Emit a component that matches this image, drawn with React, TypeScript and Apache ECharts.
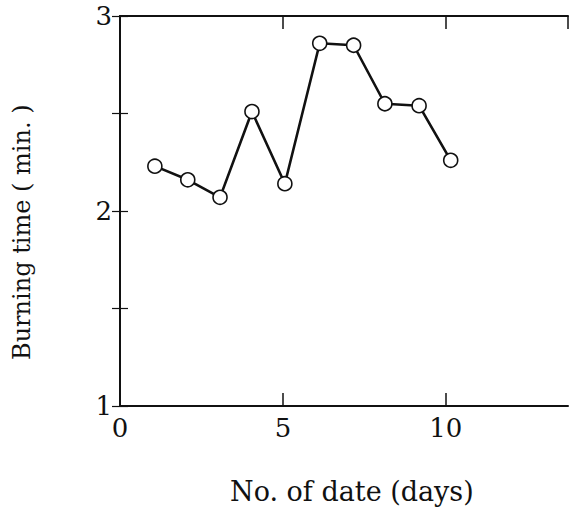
import React, { useEffect, useRef } from "react";
import * as echarts from "echarts";

const days = [1.07, 2.08, 3.07, 4.05, 5.06, 6.13, 7.17, 8.13, 9.18, 10.15];
const burningTime = [2.23, 2.16, 2.07, 2.51, 2.14, 2.86, 2.85, 2.55, 2.54, 2.26];
const xTickLabels = ["0", "5", "10"];
const yTickLabels = ["1", "2", "3"];
const xTitle = "No. of date (days)";
const yTitle = "Burning time ( min. )";

const FONT = "'DejaVu Serif', 'Liberation Serif', serif";

export default function App() {
  const ref = useRef<HTMLDivElement>(null);
  useEffect(() => {
    if (!ref.current) return;
    const chart = echarts.init(ref.current, null, { renderer: "svg" });
    const axisLine = { show: true, lineStyle: { color: "#111", width: 2 } };
    chart.setOption({
      animation: false,
      backgroundColor: "#fff",
      grid: { left: 120, top: 16, width: 448, height: 390, containLabel: false },
      xAxis: [
        {
          type: "value", min: 0, max: 13.75, interval: 5, position: "bottom",
          axisLine, splitLine: { show: false },
          axisTick: { show: true, inside: true, length: 13, lineStyle: { color: "#111", width: 1.5 } },
          axisLabel: {
            color: "#111", fontFamily: FONT, fontSize: 26, margin: 9,
            formatter: (v: number) => (xTickLabels.includes(String(v)) ? String(v) : ""),
            showMaxLabel: false,
          },
        },
        {
          type: "value", min: 0, max: 13.75, interval: 5, position: "top",
          axisLine, splitLine: { show: false },
          axisTick: { show: true, inside: true, length: 13, lineStyle: { color: "#111", width: 1.5 } },
          axisLabel: { show: false },
        },
      ],
      yAxis: [
        {
          type: "value", min: 1, max: 3, interval: 0.5, position: "left",
          axisLine, splitLine: { show: false },
          axisTick: { show: true, inside: true, length: 8, lineStyle: { color: "#111", width: 1.2 } },
          axisLabel: {
            color: "#111", fontFamily: FONT, fontSize: 26, margin: 8,
            formatter: (v: number) => (yTickLabels.includes(String(v)) ? String(v) : ""),
          },
        },
        {
          type: "value", min: 1, max: 3, interval: 0.5, position: "right",
          axisLine, splitLine: { show: false },
          axisTick: { show: true, inside: true, length: 8, lineStyle: { color: "#111", width: 1.2 } },
          axisLabel: { show: false },
        },
      ],
      graphic: [
        {
          type: "text", left: 230, top: 478,
          style: { text: xTitle, font: `27px ${FONT}`, fill: "#111" },
        },
        {
          type: "text", x: 10, y: 360, rotation: Math.PI / 2,
          style: { text: yTitle, font: `24px ${FONT}`, fill: "#111", textAlign: "left", textVerticalAlign: "top" },
        },
      ],
      series: [
        {
          type: "line",
          data: days.map((d, i) => [d, burningTime[i]]),
          symbol: "circle", symbolSize: 14,
          lineStyle: { color: "#111", width: 2.6 },
          itemStyle: { color: "#fff", borderColor: "#111", borderWidth: 1.6 },
        },
      ],
    });
    return () => chart.dispose();
  }, []);
  return <div ref={ref} style={{ position: "fixed", left: 0, top: 0, width: 574, height: 510 }} />;
}
